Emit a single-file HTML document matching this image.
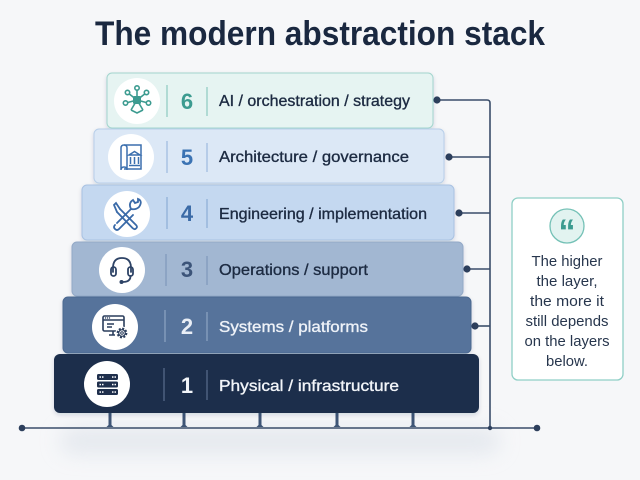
<!DOCTYPE html>
<html><head><meta charset="utf-8"><style>
html,body{margin:0;padding:0;background:#f6f7f9;}
svg{display:block;}
text{font-family:"Liberation Sans",sans-serif;}
</style></head><body>
<svg width="640" height="480" viewBox="0 0 640 480" xmlns="http://www.w3.org/2000/svg">
<defs>
<filter id="sh" x="-10%" y="-20%" width="120%" height="150%"><feDropShadow dx="0" dy="2" stdDeviation="2" flood-color="#1e2e48" flood-opacity="0.15"/></filter>
<filter id="blur" x="-20%" y="-100%" width="140%" height="300%"><feGaussianBlur stdDeviation="10"/></filter>
</defs>
<rect width="640" height="480" fill="#f6f7f9"/>
<!-- ground shadow -->
<rect x="60" y="428" width="440" height="26" rx="13" fill="#d9dfe7" opacity="0.6" filter="url(#blur)"/>

<!-- title -->
<text x="95" y="45" font-size="34" font-weight="bold" fill="#1a2840" textLength="450" lengthAdjust="spacingAndGlyphs">The modern abstraction stack</text>

<!-- connectors -->
<g stroke="#3a4d6a" stroke-width="1.6" fill="none">
<path d="M437 100 H487 Q490 100 490 103 V428"/>
<path d="M449 157 H490"/>
<path d="M459 213 H490"/>
<path d="M467 269 H490"/>
<path d="M475 326 H490"/>
<path d="M22 428 H537"/>
</g>
<g fill="#2d3f5c">
<circle cx="437" cy="100" r="3.6"/>
<circle cx="449" cy="157" r="3.6"/>
<circle cx="459" cy="213" r="3.6"/>
<circle cx="467" cy="269" r="3.6"/>
<circle cx="475" cy="326" r="3.6"/>
<circle cx="22" cy="428" r="3.3"/>
<circle cx="537" cy="428" r="3.3"/>
<circle cx="490" cy="428" r="2.2"/>
</g>
<!-- legs -->
<g fill="#3e5576">
<path d="M108.5 412 h3 v13 l2 2 h-7 l2 -2 z"/>
<path d="M182.5 412 h3 v13 l2 2 h-7 l2 -2 z"/>
<path d="M258.5 412 h3 v13 l2 2 h-7 l2 -2 z"/>
<path d="M335.5 412 h3 v13 l2 2 h-7 l2 -2 z"/>
<path d="M411.5 412 h3 v13 l2 2 h-7 l2 -2 z"/>
</g>

<!-- layers -->
<g filter="url(#sh)">
<rect x="107" y="73" width="326" height="55" rx="5" fill="#e6f4f2" stroke="#a3d5ce" stroke-width="1"/>
<rect x="94" y="129" width="350" height="54" rx="5" fill="#dce8f6" stroke="#b7cee9" stroke-width="1"/>
<rect x="82" y="185" width="372" height="55" rx="5" fill="#c4d8f0" stroke="#a9c2e2" stroke-width="1"/>
<rect x="72" y="242" width="391" height="54" rx="5" fill="#a2b7d2" stroke="#93a9c7" stroke-width="1"/>
<rect x="63" y="297" width="408" height="56" rx="5" fill="#56739b" stroke="#4c6990" stroke-width="1"/>
<rect x="54" y="354" width="425" height="59" rx="6" fill="#1f2f4c"/>
</g>

<!-- icon circles -->
<g fill="#ffffff">
<circle cx="137" cy="101" r="23"/>
<circle cx="131" cy="157" r="23"/>
<circle cx="127" cy="214" r="23"/>
<circle cx="122" cy="270" r="23"/>
<circle cx="115" cy="327" r="23"/>
<circle cx="107" cy="384" r="23"/>
</g>

<!-- L6 hub icon -->
<g stroke="#3c9b90" stroke-width="1.6" fill="none">
<path d="M137 100 L137 89 M137 100 L128 93 M137 100 L146 93 M137 100 L126 103 M137 100 L148 103 M137 100 L131 110 M137 100 L143 110 M131 110 L137 113 L143 110"/>
<circle cx="137" cy="88" r="2.2" fill="#fff"/>
<circle cx="127.5" cy="92.5" r="2.2" fill="#fff"/>
<circle cx="146.5" cy="92.5" r="2.2" fill="#fff"/>
<circle cx="125.5" cy="103" r="2.2" fill="#fff"/>
<circle cx="148.5" cy="103" r="2.2" fill="#fff"/>
</g>
<rect x="133" y="96" width="8" height="8" rx="1.5" fill="#3c9b90"/>

<!-- L5 blueprint icon -->
<g stroke="#3b6fae" stroke-width="1.5" fill="none">
<path d="M121 148 Q121 145 124 145 Q127 145 127 148 V170 Q127 167 124 167 Q121 167 121 170 V148 Z"/>
<path d="M124 145 H141 V169 H124"/>
<path d="M129 155 L134.5 151.5 L140 155 Z"/>
<path d="M130.5 157 V164 M134.5 157 V164 M138.5 157 V164"/>
<path d="M129 165.5 H140"/>
</g>

<!-- L4 tools icon -->
<g stroke="#3a6aa8" stroke-width="1.8" fill="none" stroke-linecap="round">
<path d="M117 223 L131 209"/>
<path d="M131 209 Q128 203 133 200 L135 203 L138 202 L138 199 Q143 201 139 207 Q136 210 131 209"/>
<path d="M115 225 Q113 227 115 229 Q117 231 119 229 L133 215"/>
<path d="M120 209 L136 225 Q138 227 136 228.5 Q134.5 230 132.5 228 L117 212"/>
<path d="M117 212 L114 205 L116 203 L120 209"/>
</g>

<!-- L3 headset icon -->
<g stroke="#2e4366" stroke-width="1.8" fill="none" stroke-linecap="round">
<path d="M113 272 V268 Q113 258 122 258 Q131 258 131 268 V272"/>
<rect x="111" y="267" width="5" height="9" rx="2.5"/>
<rect x="128" y="267" width="5" height="9" rx="2.5"/>
<path d="M130.5 276 Q130.5 282 123 282"/>
</g>
<circle cx="121.5" cy="282" r="2" fill="#2e4366"/>

<!-- L2 monitor gear icon -->
<g stroke="#2a3d5c" stroke-width="1.6" fill="none">
<rect x="103" y="316" width="21" height="15" rx="1.5"/>
<path d="M103 320 H124"/>
<path d="M107 324 H114 M107 327 H112"/>
<path d="M113 331 V335 M109 335 H115"/>
</g>
<g fill="#2a3d5c"><circle cx="105.5" cy="318" r="0.7"/><circle cx="107.5" cy="318" r="0.7"/><circle cx="109.5" cy="318" r="0.7"/></g>
<circle cx="122" cy="333" r="6.5" fill="#fff"/>
<circle cx="122" cy="333" r="4.2" fill="none" stroke="#2a3d5c" stroke-width="2.4" stroke-dasharray="1.9 1.4"/>
<circle cx="122" cy="333" r="3.3" fill="none" stroke="#2a3d5c" stroke-width="1.2"/>
<circle cx="122" cy="333" r="1.3" fill="none" stroke="#2a3d5c" stroke-width="1"/>

<!-- L1 server icon -->
<g fill="#1f2f4c">
<rect x="97" y="374" width="21" height="6" rx="1.5"/>
<rect x="97" y="381.5" width="21" height="6" rx="1.5"/>
<rect x="97" y="389" width="21" height="6" rx="1.5"/>
</g>
<g fill="#ffffff">
<rect x="99.5" y="376.3" width="1.5" height="1.5"/><rect x="102" y="376.3" width="1.5" height="1.5"/><rect x="112" y="376.3" width="1.5" height="1.5"/><rect x="114.5" y="376.3" width="1.5" height="1.5"/>
<rect x="99.5" y="383.8" width="1.5" height="1.5"/><rect x="102" y="383.8" width="1.5" height="1.5"/><rect x="112" y="383.8" width="1.5" height="1.5"/><rect x="114.5" y="383.8" width="1.5" height="1.5"/>
<rect x="99.5" y="391.3" width="1.5" height="1.5"/><rect x="102" y="391.3" width="1.5" height="1.5"/><rect x="112" y="391.3" width="1.5" height="1.5"/><rect x="114.5" y="391.3" width="1.5" height="1.5"/>
</g>

<!-- dividers -->
<g stroke-width="1.2">
<path d="M167 85 V117 M207 87 V116" stroke="#8ccac1"/>
<path d="M167 141 V173 M207 143 V172" stroke="#9dbbdf"/>
<path d="M167 197 V229 M207 199 V228" stroke="#8cadd6"/>
<path d="M166 254 V286 M207 256 V285" stroke="#7f98ba"/>
<path d="M165 310 V342 M207 312 V341" stroke="#8ea5c3"/>
<path d="M164 368 V401 M207 370 V400" stroke="#5a6e8e"/>
</g>

<!-- numbers -->
<g font-size="22" font-weight="bold" text-anchor="middle">
<text x="187" y="109" fill="#3c9b90">6</text>
<text x="187" y="165" fill="#3b73b3">5</text>
<text x="187" y="221" fill="#3a6aa6">4</text>
<text x="187" y="277" fill="#3c5479">3</text>
<text x="187" y="334" fill="#e9eef6">2</text>
<text x="187" y="393" fill="#f2f5f9">1</text>
</g>

<!-- labels -->
<g font-size="16" stroke-width="0.35">
<text x="219" y="106" fill="#1d2b42" stroke="#1d2b42" textLength="191" lengthAdjust="spacingAndGlyphs">AI / orchestration / strategy</text>
<text x="219" y="162" fill="#1d2b42" stroke="#1d2b42" textLength="190" lengthAdjust="spacingAndGlyphs">Architecture / governance</text>
<text x="219" y="219" fill="#1d2b42" stroke="#1d2b42" textLength="208" lengthAdjust="spacingAndGlyphs">Engineering / implementation</text>
<text x="219" y="275" fill="#1d2b42" stroke="#1d2b42" textLength="149" lengthAdjust="spacingAndGlyphs">Operations / support</text>
<text x="219" y="332" fill="#eef2f8" stroke="#eef2f8" textLength="149" lengthAdjust="spacingAndGlyphs">Systems / platforms</text>
<text x="219" y="391" fill="#f2f5f9" stroke="#f2f5f9" textLength="180" lengthAdjust="spacingAndGlyphs">Physical / infrastructure</text>
</g>

<!-- quote box -->
<rect x="512" y="198" width="111" height="182" rx="6" fill="#ffffff" stroke="#8fcfc6" stroke-width="1.3"/>
<circle cx="567" cy="226" r="17" fill="#e2f3f0" stroke="#74c1b6" stroke-width="1.3"/>
<text x="567" y="243" font-size="34" font-weight="bold" fill="#3c9b90" text-anchor="middle" font-family="DejaVu Sans, sans-serif">“</text>
<g font-size="15" fill="#27364d" text-anchor="middle">
<text x="567" y="266" textLength="71" lengthAdjust="spacingAndGlyphs">The higher</text>
<text x="567" y="286" textLength="61" lengthAdjust="spacingAndGlyphs">the layer,</text>
<text x="567" y="306" textLength="74" lengthAdjust="spacingAndGlyphs">the more it</text>
<text x="567" y="326" textLength="83" lengthAdjust="spacingAndGlyphs">still depends</text>
<text x="567" y="346" textLength="85" lengthAdjust="spacingAndGlyphs">on the layers</text>
<text x="567" y="366" textLength="42" lengthAdjust="spacingAndGlyphs">below.</text>
</g>
</svg>
</body></html>
